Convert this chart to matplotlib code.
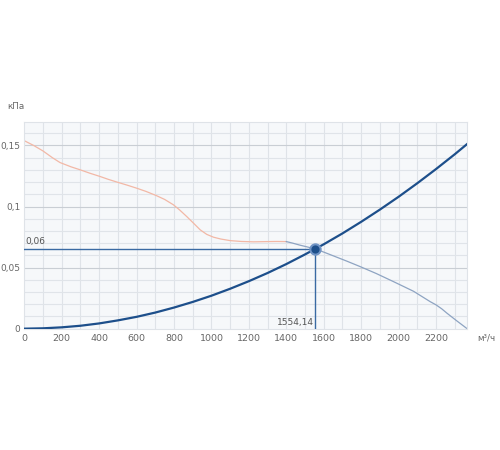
import numpy as np
import matplotlib
matplotlib.use("Agg")
import matplotlib.pyplot as plt

# system curve (dark blue)
sys_x = [0, 100, 200, 300, 400, 500, 600, 700, 800, 900, 1000, 1100, 1200, 1300,
         1400, 1500, 1600, 1700, 1800, 1900, 2000, 2100, 2200, 2300, 2367]
sys_y = [0.0, 0.0003, 0.0011, 0.0024, 0.0043, 0.0068, 0.0097, 0.0132, 0.0173, 0.0219,
         0.0270, 0.0327, 0.0389, 0.0456, 0.0529, 0.0608, 0.0691, 0.0780, 0.0875, 0.0975,
         0.1080, 0.1191, 0.1307, 0.1428, 0.1513]

# fan curve, pink part (stall zone) and blue-grey part
fan1_x = [0, 50, 100, 150, 191, 250, 300, 350, 405, 450, 500, 550, 601, 650, 708, 750,
          797, 830, 868, 900, 940, 975, 1011, 1050, 1100, 1160, 1225, 1300, 1350, 1400]
fan1_y = [0.1539, 0.1500, 0.1455, 0.1400, 0.1360, 0.1325, 0.1300, 0.1273, 0.1246, 0.1222,
          0.1198, 0.1175, 0.1150, 0.1124, 0.1088, 0.1058, 0.1014, 0.0972, 0.0918, 0.0870,
          0.0809, 0.0772, 0.0749, 0.0734, 0.0721, 0.0714, 0.0711, 0.0713, 0.0714, 0.0713]
fan2_x = [1400, 1430, 1470, 1510, 1554.14, 1600, 1650, 1720, 1795, 1880, 1973, 2080,
          2169, 2200, 2230, 2259, 2310, 2366]
fan2_y = [0.0713, 0.0702, 0.0685, 0.0670, 0.0653, 0.0627, 0.0597, 0.0555, 0.0508, 0.0452,
          0.0385, 0.0306, 0.0221, 0.0195, 0.0163, 0.0126, 0.0065, 0.0]

op_x = 1554.14
op_y = 0.0653

xticks = [0, 200, 400, 600, 800, 1000, 1200, 1400, 1600, 1800, 2000, 2200]
yticks = [0, 0.05, 0.1, 0.15]
ytick_labels = ["0", "0,05", "0,1", "0,15"]

fig = plt.figure(figsize=(5, 4.5), dpi=100)
ax = fig.add_axes([0.0486, 0.2696, 0.886, 0.4587])
ax.set_facecolor("#f6f8fa")
ax.set_xlim(0, 2367)
ax.set_ylim(0, 0.169)

# grid
for gx in np.arange(100, 2367, 100):
    ax.axvline(gx, color="#dfe3e8", lw=0.8, zorder=0)
for gy in np.arange(0.01, 0.169, 0.01):
    c = "#c9ced4" if abs(gy / 0.05 - round(gy / 0.05)) < 1e-6 else "#e0e4e9"
    ax.axhline(gy, color=c, lw=0.8, zorder=0)

for s in ax.spines.values():
    s.set_color("#dfe3e8")
    s.set_linewidth(0.8)

ax.plot(fan1_x, fan1_y, color="#f2b8a6", lw=0.9, zorder=2)
ax.plot(fan2_x, fan2_y, color="#8ea4c2", lw=0.9, zorder=2)
ax.plot(sys_x, sys_y, color="#1d4f8b", lw=1.6, zorder=3)

# operating point lines
ax.plot([0, op_x], [op_y, op_y], color="#3a6aa3", lw=1.0, zorder=3)
ax.plot([op_x, op_x], [0, op_y], color="#3a6aa3", lw=1.0, zorder=3)
ax.scatter([op_x], [op_y], s=55, color="#1d4f8b", edgecolor="#6f93c4", linewidth=1.5, zorder=5)

ax.text(8, op_y + 0.002, "0,06", fontsize=6.5, color="#555555", va="bottom", ha="left")
ax.text(op_x - 5, 0.0015, "1554,14", fontsize=6.5, color="#555555", va="bottom", ha="right")

ax.set_xticks(xticks)
ax.set_xticklabels([str(t) for t in xticks])
ax.set_yticks(yticks)
ax.set_yticklabels(ytick_labels)
ax.tick_params(axis="x", length=0, labelsize=6.8, colors="#666666", pad=4)
ax.tick_params(axis="y", length=0, labelsize=6.5, colors="#666666", pad=3)

fig.text(0.014, 0.757, "кПа", fontsize=6.3, color="#666666")
fig.text(0.955, 0.243, "м³/ч", fontsize=6.3, color="#666666")

fig.savefig("out.png", dpi=100)
